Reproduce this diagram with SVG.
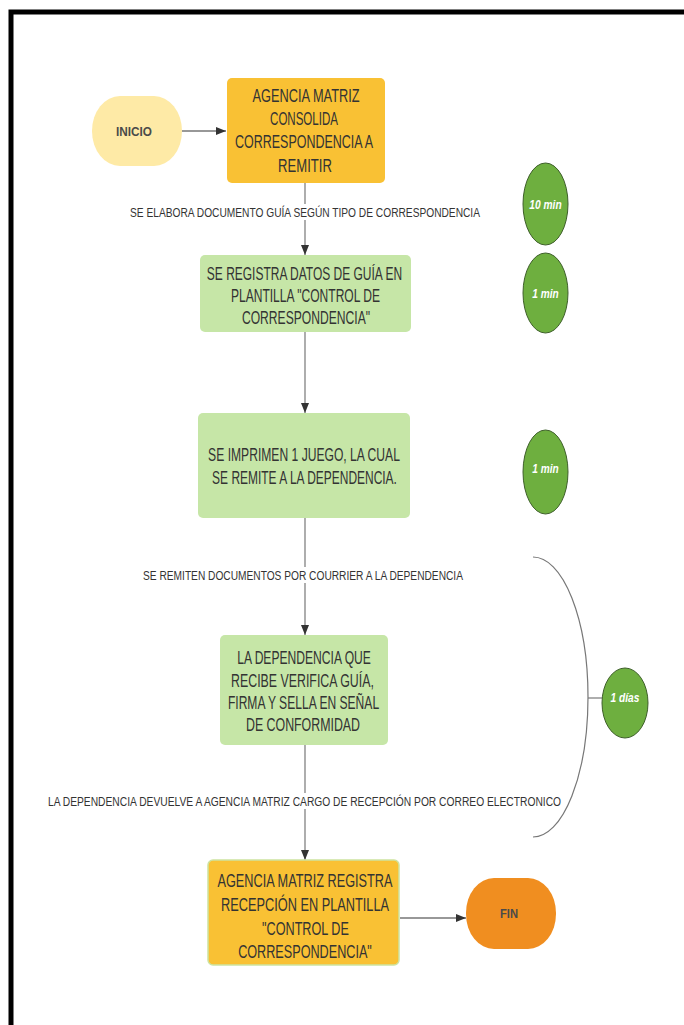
<svg xmlns="http://www.w3.org/2000/svg" width="684" height="1025" viewBox="0 0 684 1025">
  <defs>
    <marker id="arrow" markerWidth="10" markerHeight="8" refX="10" refY="4" orient="auto" markerUnits="userSpaceOnUse">
      <path d="M0,0 L10,4 L0,8 z" fill="#333333"/>
    </marker>
    <style>
      text { lengthAdjust: spacingAndGlyphs; }
      .node-text { font-family: "Liberation Sans", Arial, sans-serif; font-size: 18px; fill: #333333; text-anchor: middle; }
      .term-text { font-family: "Liberation Sans", Arial, sans-serif; font-size: 13px; font-weight: bold; fill: #4a4a4a; text-anchor: middle; }
      .edge-label { font-family: "Liberation Sans", Arial, sans-serif; font-size: 13.5px; fill: #333333; text-anchor: middle; }
      .time-text { font-family: "Liberation Sans", Arial, sans-serif; font-size: 13px; font-style: italic; font-weight: bold; fill: #ffffff; text-anchor: middle; }
      .orange { fill: #F9C134; }
      .green { fill: #C6E6A7; }
      .time { fill: #6EAF3F; stroke: #3E5F2A; stroke-width: 1; }
      .conn { stroke: #777777; stroke-width: 1.2; fill: none; }
      .conn-dark { stroke: #333333; stroke-width: 1.2; fill: none; }
    </style>
  </defs>

  <rect x="0" y="0" width="684" height="1025" fill="#ffffff"/>
  <!-- page frame -->
  <rect x="11" y="12" width="700" height="1040" fill="none" stroke="#000000" stroke-width="5"/>

  <!-- connectors -->
  <g id="connectors">
    <line class="conn-dark" x1="182" y1="131" x2="226" y2="131" marker-end="url(#arrow)"/>
    <line class="conn" x1="305" y1="183" x2="305" y2="204"/>
    <line class="conn" x1="305" y1="220" x2="305" y2="255" marker-end="url(#arrow)"/>
    <line class="conn" x1="305" y1="332" x2="305" y2="413" marker-end="url(#arrow)"/>
    <line class="conn" x1="305" y1="518" x2="305" y2="567"/>
    <line class="conn" x1="305" y1="583" x2="305" y2="635" marker-end="url(#arrow)"/>
    <line class="conn" x1="305" y1="745" x2="305" y2="793"/>
    <line class="conn" x1="305" y1="809" x2="305" y2="860" marker-end="url(#arrow)"/>
    <line class="conn-dark" x1="400" y1="918" x2="466" y2="918" marker-end="url(#arrow)"/>
    <!-- bracket spanning the courier steps -->
    <path class="conn" d="M533,557 A55,140 0 0 1 533,837"/>
    <line class="conn" x1="588" y1="698" x2="602" y2="698"/>
    <text class="edge-label" transform="translate(305,216.5) scale(0.7,1)" textLength="500" lengthAdjust="spacingAndGlyphs">SE ELABORA DOCUMENTO GUÍA SEGÚN TIPO DE CORRESPONDENCIA</text>
    <text class="edge-label" transform="translate(303,579.5) scale(0.7,1)" textLength="457" lengthAdjust="spacingAndGlyphs">SE REMITEN DOCUMENTOS POR COURRIER A LA DEPENDENCIA</text>
    <text class="edge-label" transform="translate(304.5,805.5) scale(0.7,1)" textLength="733" lengthAdjust="spacingAndGlyphs">LA DEPENDENCIA DEVUELVE A AGENCIA MATRIZ CARGO DE RECEPCIÓN POR CORREO ELECTRONICO</text>
  </g>

  <g id="inicio">
    <rect x="92" y="96" width="90" height="70" rx="28" ry="35" fill="#FEEAA6"/>
    <text class="term-text" transform="translate(134,135.5) scale(0.8,1)" textLength="45" lengthAdjust="spacingAndGlyphs">INICIO</text>
  </g>

  <g id="consolida">
    <rect class="orange" x="227" y="78" width="158" height="105" rx="5"/>
    <text class="node-text" transform="translate(306,101.5) scale(0.7,1)" textLength="153" lengthAdjust="spacingAndGlyphs">AGENCIA MATRIZ</text>
    <text class="node-text" transform="translate(304,124.5) scale(0.7,1)" textLength="97" lengthAdjust="spacingAndGlyphs">CONSOLIDA</text>
    <text class="node-text" transform="translate(304,148) scale(0.7,1)" textLength="197" lengthAdjust="spacingAndGlyphs">CORRESPONDENCIA A</text>
    <text class="node-text" transform="translate(305,171.5) scale(0.7,1)" textLength="77" lengthAdjust="spacingAndGlyphs">REMITIR</text>
  </g>

  <g id="registra-guia">
    <rect class="green" x="200" y="255" width="211" height="77" rx="5"/>
    <text class="node-text" transform="translate(304.5,280) scale(0.7,1)" textLength="279" lengthAdjust="spacingAndGlyphs">SE REGISTRA DATOS DE GUÍA EN</text>
    <text class="node-text" transform="translate(305.5,302) scale(0.7,1)" textLength="213" lengthAdjust="spacingAndGlyphs">PLANTILLA "CONTROL DE</text>
    <text class="node-text" transform="translate(306,324) scale(0.7,1)" textLength="183" lengthAdjust="spacingAndGlyphs">CORRESPONDENCIA"</text>
  </g>

  <g id="imprime">
    <rect class="green" x="198" y="413" width="212" height="105" rx="5"/>
    <text class="node-text" transform="translate(304,461) scale(0.7,1)" textLength="274" lengthAdjust="spacingAndGlyphs">SE IMPRIMEN 1 JUEGO, LA CUAL</text>
    <text class="node-text" transform="translate(304.5,483.5) scale(0.7,1)" textLength="264" lengthAdjust="spacingAndGlyphs">SE REMITE A LA DEPENDENCIA.</text>
  </g>

  <g id="verifica">
    <rect class="green" x="220" y="635" width="168" height="110" rx="5"/>
    <text class="node-text" transform="translate(304,664) scale(0.7,1)" textLength="191" lengthAdjust="spacingAndGlyphs">LA DEPENDENCIA QUE</text>
    <text class="node-text" transform="translate(302.5,686.5) scale(0.7,1)" textLength="204" lengthAdjust="spacingAndGlyphs">RECIBE VERIFICA GUÍA,</text>
    <text class="node-text" transform="translate(303.5,708.5) scale(0.7,1)" textLength="216" lengthAdjust="spacingAndGlyphs">FIRMA Y SELLA EN SEÑAL</text>
    <text class="node-text" transform="translate(303,730.5) scale(0.7,1)" textLength="163" lengthAdjust="spacingAndGlyphs">DE CONFORMIDAD</text>
  </g>

  <g id="registra-recepcion">
    <rect class="orange" x="208" y="860" width="191" height="105" rx="5" stroke="#CDE3A0" stroke-width="1.5"/>
    <text class="node-text" transform="translate(305,886.5) scale(0.7,1)" textLength="250" lengthAdjust="spacingAndGlyphs">AGENCIA MATRIZ REGISTRA</text>
    <text class="node-text" transform="translate(305,910.5) scale(0.7,1)" textLength="240" lengthAdjust="spacingAndGlyphs">RECEPCIÓN EN PLANTILLA</text>
    <text class="node-text" transform="translate(305.5,934.5) scale(0.7,1)" textLength="124" lengthAdjust="spacingAndGlyphs">"CONTROL DE</text>
    <text class="node-text" transform="translate(305,957.5) scale(0.7,1)" textLength="191" lengthAdjust="spacingAndGlyphs">CORRESPONDENCIA"</text>
  </g>

  <g id="fin">
    <rect x="466" y="878" width="90" height="71" rx="28" ry="35" fill="#F08E20"/>
    <text class="term-text" transform="translate(509,918) scale(0.8,1)" textLength="22.5" lengthAdjust="spacingAndGlyphs">FIN</text>
  </g>

  <g id="t-10min">
    <ellipse class="time" cx="545.5" cy="204" rx="22.5" ry="41"/>
    <text class="time-text" transform="translate(545.5,208.5) scale(0.85,1)" textLength="38" lengthAdjust="spacingAndGlyphs">10 min</text>
  </g>
  <g id="t-1min-a">
    <ellipse class="time" cx="545.5" cy="293" rx="22.5" ry="40"/>
    <text class="time-text" transform="translate(545.5,297.5) scale(0.85,1)" textLength="31" lengthAdjust="spacingAndGlyphs">1 min</text>
  </g>
  <g id="t-1min-b">
    <ellipse class="time" cx="545.5" cy="472" rx="22.5" ry="42"/>
    <text class="time-text" transform="translate(545.5,472.5) scale(0.85,1)" textLength="31" lengthAdjust="spacingAndGlyphs">1 min</text>
  </g>
  <g id="t-1dias">
    <ellipse class="time" cx="625" cy="703" rx="23" ry="35"/>
    <text class="time-text" transform="translate(625,701.5) scale(0.85,1)" textLength="34" lengthAdjust="spacingAndGlyphs">1 días</text>
  </g>
</svg>
